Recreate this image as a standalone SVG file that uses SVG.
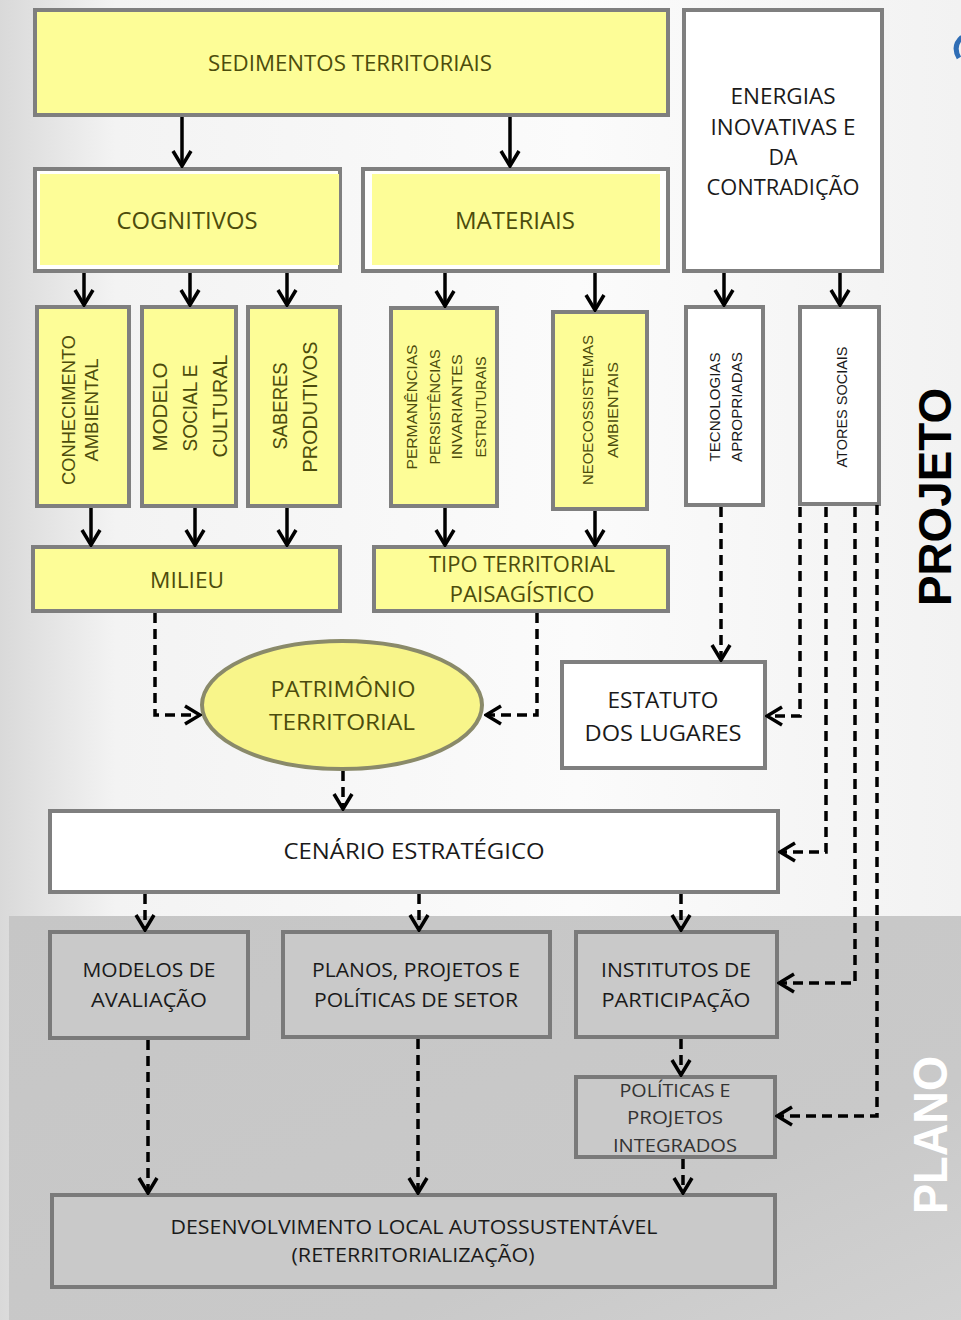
<svg xmlns="http://www.w3.org/2000/svg" width="961" height="1320" viewBox="0 0 961 1320">
<defs>
<linearGradient id="bgTop" x1="0" y1="0" x2="1" y2="0">
<stop offset="0" stop-color="#d9d9d9"/>
<stop offset="0.12" stop-color="#f3f3f3"/>
<stop offset="0.6" stop-color="#fbfbfb"/>
<stop offset="1" stop-color="#f2f2f2"/>
</linearGradient>
<linearGradient id="bgBot" x1="0" y1="0" x2="1" y2="1">
<stop offset="0" stop-color="#c6c6c6"/>
<stop offset="0.7" stop-color="#c9c9c9"/>
<stop offset="1" stop-color="#d2d2d2"/>
</linearGradient>
<marker id="ah" viewBox="-18 -11 20 22" refX="0" refY="0" markerWidth="20" markerHeight="22" markerUnits="userSpaceOnUse" orient="auto">
<path d="M-15,-9 L0,0 L-15,9" fill="none" stroke="#000" stroke-width="3.5" stroke-dasharray="none"/>
</marker>
</defs>
<style>
.yb{fill:#fdfd97;stroke:#7f7f7f;stroke-width:4}
.wb{fill:#ffffff;stroke:#7f7f7f;stroke-width:4}
.gb{fill:#c9c9c9;stroke:#7a7a7a;stroke-width:4}
.t{font-family:"Open Sans","Liberation Sans",sans-serif;text-anchor:middle}
.ty{fill:#4c4c0c}
.tk{fill:#1a1a1a}
.v{font-family:"Liberation Sans","DejaVu Sans",sans-serif;text-anchor:middle}
.sol{fill:none;stroke:#000;stroke-width:3.5;marker-end:url(#ah)}
.dsh{fill:none;stroke:#000;stroke-width:3.5;stroke-dasharray:10 6;marker-end:url(#ah)}
.side{font-family:"Liberation Sans",Arial,sans-serif;font-weight:bold;text-anchor:middle}
</style>
<rect x="0" y="0" width="961" height="1320" fill="url(#bgTop)"/>
<rect x="9" y="916" width="952" height="404" fill="url(#bgBot)"/>
<path d="M962,37 Q952,46 959,58" fill="none" stroke="#2f6db5" stroke-width="5"/>

<g id="sedimentos">
<rect class="yb" x="35" y="10" width="633" height="105"/>
<text class="t ty" x="350" y="71" font-size="22" textLength="284" lengthAdjust="spacingAndGlyphs">SEDIMENTOS TERRITORIAIS</text>
</g>
<g id="energias">
<rect class="wb" x="684" y="10" width="198" height="261"/>
<text class="t tk" font-size="21" x="783" y="104" textLength="105" lengthAdjust="spacingAndGlyphs">ENERGIAS</text>
<text class="t tk" font-size="21" x="783" y="135" textLength="145" lengthAdjust="spacingAndGlyphs">INOVATIVAS E</text>
<text class="t tk" font-size="21" x="783" y="165" textLength="29" lengthAdjust="spacingAndGlyphs">DA</text>
<text class="t tk" font-size="21" x="783" y="195" textLength="153" lengthAdjust="spacingAndGlyphs">CONTRADIÇÃO</text>
</g>
<g id="cognitivos">
<rect class="wb" x="35" y="169" width="305" height="102"/>
<rect x="40" y="174" width="299" height="91" fill="#fdfd97"/>
<text class="t ty" font-size="23" x="187" y="229" textLength="141" lengthAdjust="spacingAndGlyphs">COGNITIVOS</text>
</g>
<g id="materiais">
<rect class="wb" x="363" y="169" width="305" height="102"/>
<rect x="372" y="174" width="288" height="91" fill="#fdfd97"/>
<text class="t ty" font-size="23" x="515" y="229" textLength="120" lengthAdjust="spacingAndGlyphs">MATERIAIS</text>
</g>

<g id="conhecimento">
<rect class="yb" x="37" y="307" width="92" height="199"/>
<text class="v ty" font-size="18" transform="translate(75,410) rotate(-90)" textLength="150" lengthAdjust="spacingAndGlyphs">CONHECIMENTO</text>
<text class="v ty" font-size="18" transform="translate(98,410) rotate(-90)" textLength="103" lengthAdjust="spacingAndGlyphs">AMBIENTAL</text>
</g>
<g id="modelo">
<rect class="yb" x="142" y="307" width="94" height="199"/>
<text class="v ty" font-size="21" transform="translate(167,407) rotate(-90)" textLength="89" lengthAdjust="spacingAndGlyphs">MODELO</text>
<text class="v ty" font-size="21" transform="translate(197,408) rotate(-90)" textLength="87" lengthAdjust="spacingAndGlyphs">SOCIAL E</text>
<text class="v ty" font-size="21" transform="translate(227,406) rotate(-90)" textLength="103" lengthAdjust="spacingAndGlyphs">CULTURAL</text>
</g>
<g id="saberes">
<rect class="yb" x="248" y="307" width="92" height="199"/>
<text class="v ty" font-size="21" transform="translate(287,406) rotate(-90)" textLength="87" lengthAdjust="spacingAndGlyphs">SABERES</text>
<text class="v ty" font-size="21" transform="translate(317,407) rotate(-90)" textLength="131" lengthAdjust="spacingAndGlyphs">PRODUTIVOS</text>
</g>
<g id="permanencias">
<rect class="yb" x="391" y="308" width="106" height="198"/>
<text class="v ty" font-size="14" transform="translate(417,407) rotate(-90)" textLength="125" lengthAdjust="spacingAndGlyphs">PERMANÊNCIAS</text>
<text class="v ty" font-size="14" transform="translate(440,407) rotate(-90)" textLength="115" lengthAdjust="spacingAndGlyphs">PERSISTÊNCIAS</text>
<text class="v ty" font-size="14" transform="translate(462,407) rotate(-90)" textLength="105" lengthAdjust="spacingAndGlyphs">INVARIANTES</text>
<text class="v ty" font-size="14" transform="translate(486,407) rotate(-90)" textLength="101" lengthAdjust="spacingAndGlyphs">ESTRUTURAIS</text>
</g>
<g id="neoecossistemas">
<rect class="yb" x="553" y="312" width="94" height="197"/>
<text class="v ty" font-size="14" transform="translate(593,410) rotate(-90)" textLength="150" lengthAdjust="spacingAndGlyphs">NEOECOSSISTEMAS</text>
<text class="v ty" font-size="14" transform="translate(618,410) rotate(-90)" textLength="96" lengthAdjust="spacingAndGlyphs">AMBIENTAIS</text>
</g>
<g id="tecnologias">
<rect class="wb" x="686" y="307" width="77" height="198"/>
<text class="v tk" font-size="15" transform="translate(720,407) rotate(-90)" textLength="109" lengthAdjust="spacingAndGlyphs">TECNOLOGIAS</text>
<text class="v tk" font-size="15" transform="translate(742,407) rotate(-90)" textLength="110" lengthAdjust="spacingAndGlyphs">APROPRIADAS</text>
</g>
<g id="atores">
<rect class="wb" x="800" y="307" width="79" height="197"/>
<text class="v tk" font-size="15" transform="translate(847,407) rotate(-90)" textLength="121" lengthAdjust="spacingAndGlyphs">ATORES SOCIAIS</text>
</g>

<g id="milieu">
<rect class="yb" x="33" y="547" width="307" height="64"/>
<text class="t ty" font-size="21" x="187" y="588" textLength="74" lengthAdjust="spacingAndGlyphs">MILIEU</text>
</g>
<g id="tipo">
<rect class="yb" x="374" y="547" width="294" height="64"/>
<text class="t ty" font-size="21" x="522" y="572" textLength="186" lengthAdjust="spacingAndGlyphs">TIPO TERRITORIAL</text>
<text class="t ty" font-size="21" x="522" y="602" textLength="145" lengthAdjust="spacingAndGlyphs">PAISAGÍSTICO</text>
</g>
<g id="patrimonio">
<ellipse cx="342" cy="705" rx="140" ry="64" fill="#f8f58a" stroke="#8a8a6a" stroke-width="4"/>
<text class="t ty" font-size="22" x="343" y="697" textLength="145" lengthAdjust="spacingAndGlyphs">PATRIMÔNIO</text>
<text class="t ty" font-size="22" x="342" y="730" textLength="146" lengthAdjust="spacingAndGlyphs">TERRITORIAL</text>
</g>
<g id="estatuto">
<rect class="wb" x="562" y="662" width="203" height="106"/>
<text class="t tk" font-size="22" x="663" y="708" textLength="111" lengthAdjust="spacingAndGlyphs">ESTATUTO</text>
<text class="t tk" font-size="22" x="663" y="741" textLength="157" lengthAdjust="spacingAndGlyphs">DOS LUGARES</text>
</g>
<g id="cenario">
<rect class="wb" x="50" y="811" width="728" height="81"/>
<text class="t tk" font-size="22" x="414" y="859" textLength="261" lengthAdjust="spacingAndGlyphs">CENÁRIO ESTRATÉGICO</text>
</g>
<g id="modelos">
<rect class="gb" x="50" y="932" width="198" height="106"/>
<text class="t tk" font-size="20" x="149" y="977" textLength="133" lengthAdjust="spacingAndGlyphs">MODELOS DE</text>
<text class="t tk" font-size="20" x="149" y="1007" textLength="116" lengthAdjust="spacingAndGlyphs">AVALIAÇÃO</text>
</g>
<g id="planos">
<rect class="gb" x="283" y="932" width="267" height="105"/>
<text class="t tk" font-size="20" x="416" y="977" textLength="208" lengthAdjust="spacingAndGlyphs">PLANOS, PROJETOS E</text>
<text class="t tk" font-size="20" x="416" y="1007" textLength="204" lengthAdjust="spacingAndGlyphs">POLÍTICAS DE SETOR</text>
</g>
<g id="institutos">
<rect class="gb" x="576" y="932" width="201" height="105"/>
<text class="t tk" font-size="20" x="676" y="977" textLength="150" lengthAdjust="spacingAndGlyphs">INSTITUTOS DE</text>
<text class="t tk" font-size="20" x="676" y="1007" textLength="149" lengthAdjust="spacingAndGlyphs">PARTICIPAÇÃO</text>
</g>
<g id="politicas">
<rect class="gb" x="576" y="1077" width="199" height="80"/>
<text class="t" fill="#333" font-size="19" x="675" y="1097" textLength="111" lengthAdjust="spacingAndGlyphs">POLÍTICAS E</text>
<text class="t" fill="#333" font-size="19" x="675" y="1124" textLength="96" lengthAdjust="spacingAndGlyphs">PROJETOS</text>
<text class="t" fill="#333" font-size="19" x="675" y="1152" textLength="124" lengthAdjust="spacingAndGlyphs">INTEGRADOS</text>
</g>
<g id="desenvolvimento">
<rect class="gb" x="52" y="1195" width="723" height="92"/>
<text class="t tk" font-size="20" x="414" y="1234" textLength="487" lengthAdjust="spacingAndGlyphs">DESENVOLVIMENTO LOCAL AUTOSSUSTENTÁVEL</text>
<text class="t tk" font-size="20" x="413" y="1262" textLength="243" lengthAdjust="spacingAndGlyphs">(RETERRITORIALIZAÇÃO)</text>
</g>

<g id="labels">
<text class="side" fill="#000" font-size="46" transform="translate(951,497) rotate(-90)" textLength="218" lengthAdjust="spacingAndGlyphs">PROJETO</text>
<text class="side" fill="#ffffff" font-size="48" transform="translate(947,1135) rotate(-90)" textLength="158" lengthAdjust="spacingAndGlyphs">PLANO</text>
</g>

<g id="connectors">
<path class="sol" d="M182,117 V166"/>
<path class="sol" d="M510,117 V166"/>
<path class="sol" d="M84,273 V305"/>
<path class="sol" d="M190,273 V305"/>
<path class="sol" d="M287,273 V305"/>
<path class="sol" d="M445,273 V306"/>
<path class="sol" d="M595,273 V310"/>
<path class="sol" d="M724,273 V305"/>
<path class="sol" d="M840,273 V305"/>
<path class="sol" d="M91,508 V545"/>
<path class="sol" d="M195,508 V545"/>
<path class="sol" d="M287,508 V545"/>
<path class="sol" d="M445,508 V545"/>
<path class="sol" d="M595,511 V545"/>
<path class="dsh" d="M155,613 V715 H200"/>
<path class="dsh" d="M537,613 V715 H486"/>
<path class="dsh" d="M343,771 V809"/>
<path class="dsh" d="M721,507 V660"/>
<path class="dsh" d="M800,507 V716 H767"/>
<path class="dsh" d="M826,507 V852 H780"/>
<path class="dsh" d="M855,507 V983 H779"/>
<path class="dsh" d="M877,505 V1116 H777"/>
<path class="dsh" d="M145,894 V930"/>
<path class="dsh" d="M419,894 V930"/>
<path class="dsh" d="M681,894 V930"/>
<path class="dsh" d="M148,1040 V1193"/>
<path class="dsh" d="M418,1039 V1193"/>
<path class="dsh" d="M681,1039 V1075"/>
<path class="dsh" d="M683,1159 V1193"/>
</g>
</svg>
